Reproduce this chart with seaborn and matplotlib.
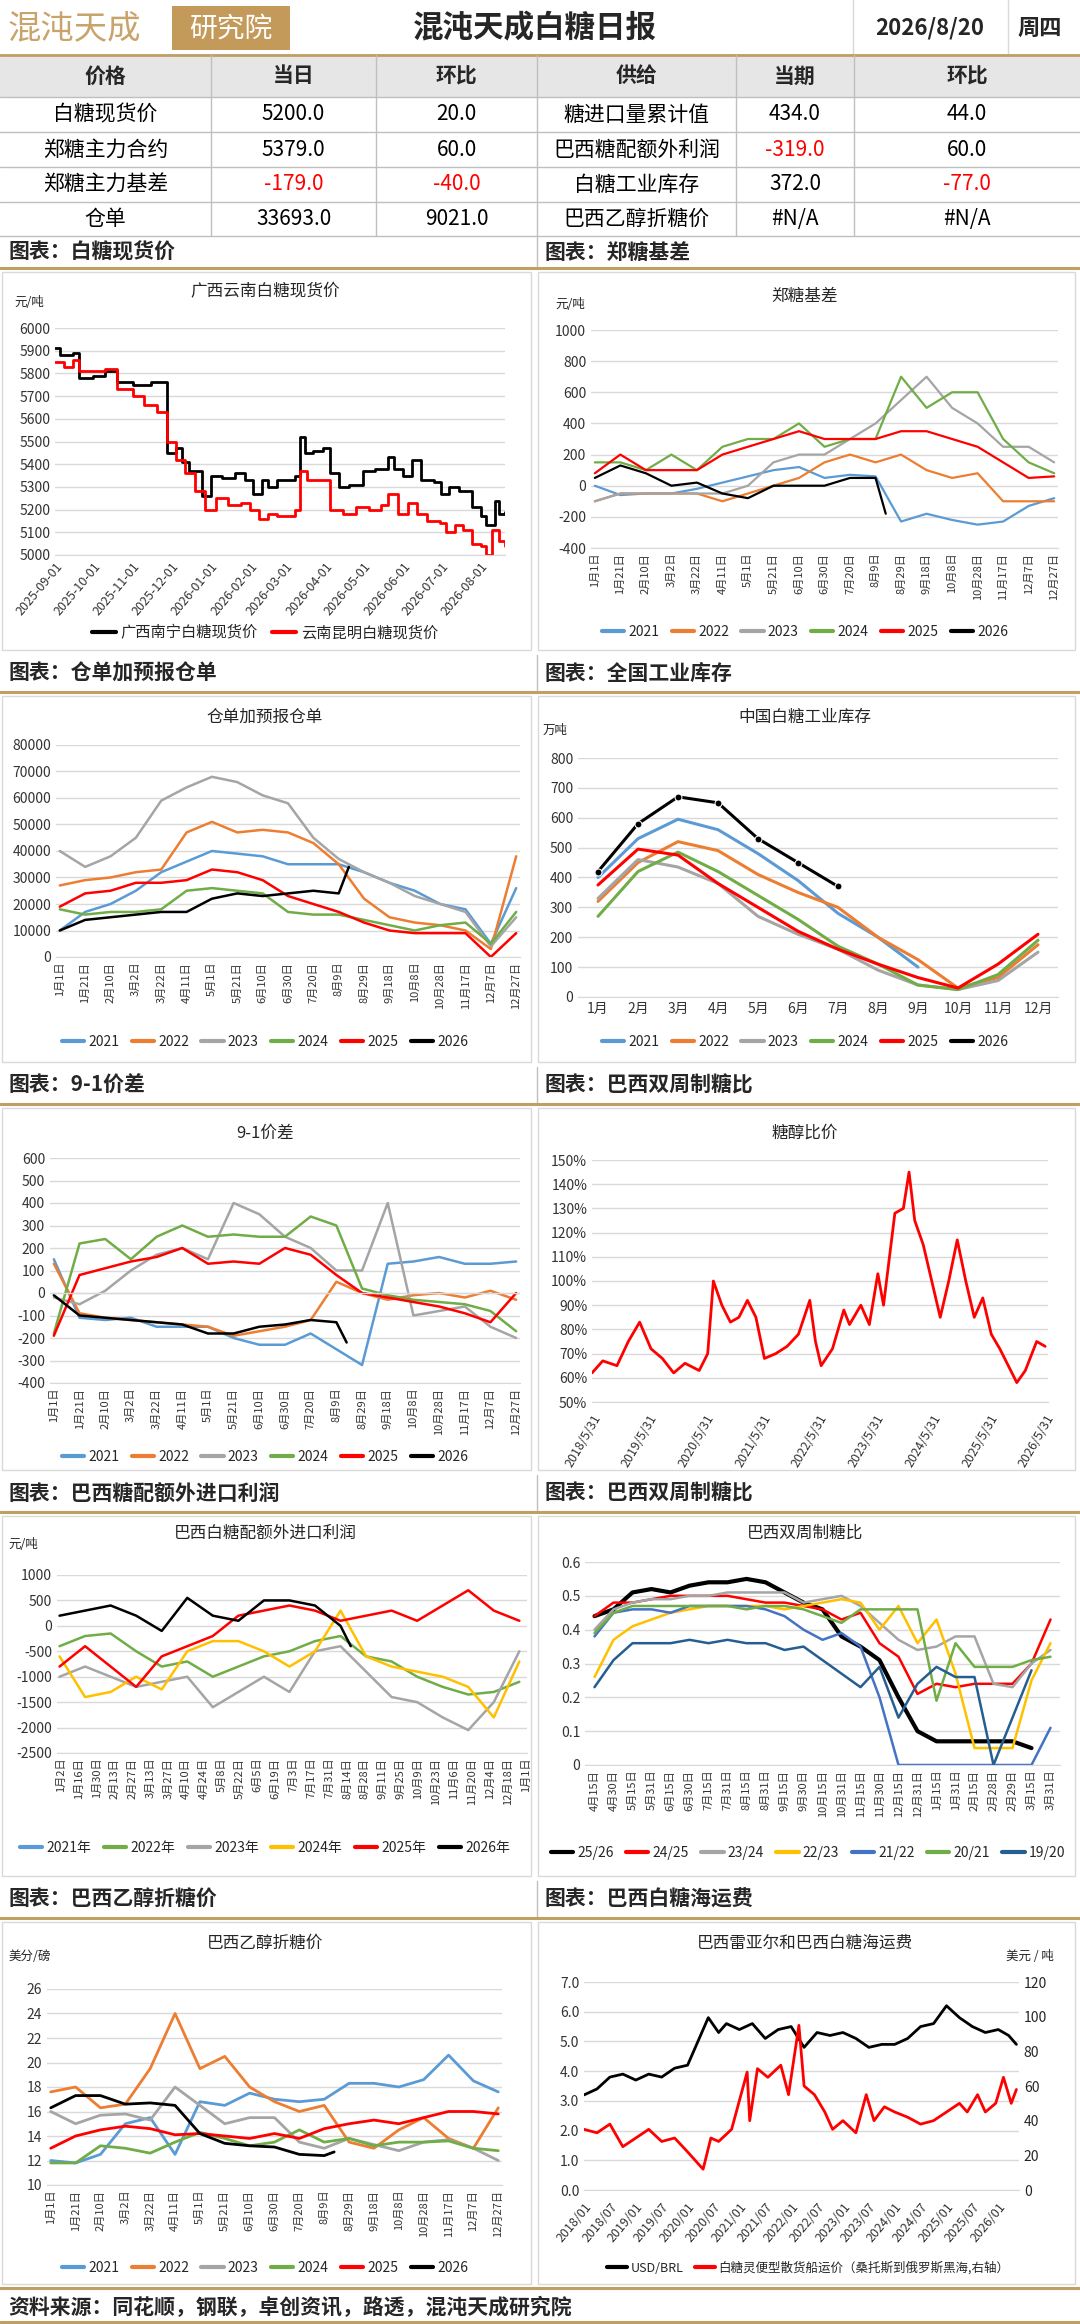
import numpy as np
import pandas as pd
import matplotlib
matplotlib.use("Agg")
import matplotlib.pyplot as plt
import seaborn as sns
from matplotlib.patches import Rectangle
from matplotlib.lines import Line2D

# ---------------- data ----------------
TABLE_HEAD = ["价格", "当日", "环比", "供给", "当期", "环比"]
TABLE_ROWS = [
    ["白糖现货价", "5200.0", "20.0", "糖进口量累计值", "434.0", "44.0"],
    ["郑糖主力合约", "5379.0", "60.0", "巴西糖配额外利润", "-319.0", "60.0"],
    ["郑糖主力基差", "-179.0", "-40.0", "白糖工业库存", "372.0", "-77.0"],
    ["仓单", "33693.0", "9021.0", "巴西乙醇折糖价", "#N/A", "#N/A"],
]
SECTIONS = [("图表：白糖现货价", "图表：郑糖基差"),
            ("图表：仓单加预报仓单", "图表：全国工业库存"),
            ("图表：9-1价差", "图表：巴西双周制糖比"),
            ("图表：巴西糖配额外进口利润", "图表：巴西双周制糖比"),
            ("图表：巴西乙醇折糖价", "图表：巴西白糖海运费")]

# chart 1: spot prices
GX_DATES = ["2025-09-01", "2025-09-05", "2025-09-15", "2025-09-20", "2025-10-01", "2025-10-10", "2025-10-20",
            "2025-11-01", "2025-11-15", "2025-11-25", "2025-11-28", "2025-12-05", "2025-12-10", "2025-12-15",
            "2025-12-25", "2026-01-01", "2026-01-10", "2026-01-20", "2026-01-28", "2026-02-03", "2026-02-10",
            "2026-02-15", "2026-02-22", "2026-03-01", "2026-03-08", "2026-03-12", "2026-03-16", "2026-03-22",
            "2026-03-30", "2026-04-05", "2026-04-12", "2026-04-20", "2026-05-01", "2026-05-10", "2026-05-20",
            "2026-05-25", "2026-06-01", "2026-06-08", "2026-06-15", "2026-06-25", "2026-07-01", "2026-07-07",
            "2026-07-15", "2026-07-25", "2026-08-01", "2026-08-05", "2026-08-12", "2026-08-15", "2026-08-20"]
GX_PRICE = [5910, 5880, 5890, 5780, 5790, 5810, 5760, 5750, 5760, 5760, 5450, 5470, 5410, 5370, 5260, 5350,
            5340, 5360, 5330, 5270, 5330, 5300, 5330, 5330, 5350, 5520, 5450, 5460, 5470, 5360, 5300, 5310,
            5370, 5380, 5430, 5380, 5350, 5420, 5330, 5320, 5270, 5300, 5280, 5210, 5170, 5130, 5240, 5180, 5190]
YN_DATES = ["2025-09-01", "2025-09-08", "2025-09-15", "2025-09-20", "2025-10-01", "2025-10-10", "2025-10-20",
            "2025-11-01", "2025-11-10", "2025-11-20", "2025-11-28", "2025-12-05", "2025-12-12", "2025-12-20",
            "2025-12-28", "2026-01-05", "2026-01-15", "2026-01-25", "2026-02-01", "2026-02-08", "2026-02-15",
            "2026-02-22", "2026-03-01", "2026-03-08", "2026-03-12", "2026-03-18", "2026-03-28", "2026-04-05",
            "2026-04-15", "2026-04-25", "2026-05-05", "2026-05-15", "2026-05-20", "2026-05-28", "2026-06-05",
            "2026-06-12", "2026-06-20", "2026-06-30", "2026-07-05", "2026-07-12", "2026-07-18", "2026-07-25",
            "2026-08-01", "2026-08-05", "2026-08-10", "2026-08-15", "2026-08-20"]
YN_PRICE = [5850, 5830, 5860, 5810, 5810, 5820, 5730, 5700, 5660, 5630, 5500, 5420, 5360, 5280, 5200, 5250,
            5220, 5230, 5200, 5160, 5180, 5170, 5170, 5200, 5370, 5330, 5330, 5200, 5180, 5210, 5200, 5220,
            5270, 5180, 5230, 5180, 5150, 5140, 5100, 5130, 5110, 5050, 5040, 5000, 5110, 5060, 5040]

YEARS = ["2021", "2022", "2023", "2024", "2025", "2026"]
SEASON_COLORS = ["#5B9BD5", "#ED7D31", "#A5A5A5", "#70AD47", "#FF0000", "#000000"]
DAYS = list(range(0, 361, 20))
DAYS_2026 = list(range(0, 221, 20)) + [228]

# chart 2: basis
BASIS = {
    "2021": [0, -60, -50, -50, -20, 20, 60, 100, 120, 50, 70, 60, -230, -180, -220, -250, -230, -130, -80],
    "2022": [-100, -50, -50, -50, -50, -100, -50, 0, 50, 150, 200, 150, 200, 100, 50, 80, -100, -100, -100],
    "2023": [-100, -50, -50, -50, -50, -50, 0, 150, 200, 200, 300, 400, 550, 700, 500, 400, 250, 250, 150],
    "2024": [150, 150, 100, 200, 100, 250, 300, 300, 400, 250, 300, 300, 700, 500, 600, 600, 300, 150, 80],
    "2025": [80, 200, 100, 100, 100, 200, 250, 300, 350, 300, 300, 300, 350, 350, 300, 250, 150, 50, 60],
    "2026": [50, 130, 80, 0, 20, -50, -80, 0, 0, 0, 50, 50, -180],
}
# chart 3: warehouse receipts
RECEIPTS = {
    "2021": [10000, 17000, 20000, 25000, 32000, 36000, 40000, 39000, 38000, 35000, 35000, 35000, 32000, 28000, 25000, 20000, 18000, 5000, 26000],
    "2022": [27000, 29000, 30000, 32000, 33000, 47000, 51000, 47000, 48000, 47000, 43000, 35000, 22000, 15000, 13000, 12000, 10000, 3000, 38000],
    "2023": [40000, 34000, 38000, 45000, 59000, 64000, 68000, 66000, 61000, 58000, 45000, 37000, 32000, 28000, 23000, 20000, 17000, 4000, 15000],
    "2024": [18000, 16000, 17000, 17000, 18000, 25000, 26000, 25000, 24000, 17000, 16000, 16000, 14000, 12000, 10000, 12000, 13000, 5000, 17000],
    "2025": [19000, 24000, 25000, 28000, 28000, 29000, 33000, 32000, 29000, 23000, 20000, 17000, 13000, 10000, 9000, 9000, 9000, 0, 9000],
    "2026": [10000, 14000, 15000, 16000, 17000, 17000, 22000, 24000, 23000, 24000, 25000, 24000, 34000],
}
# chart 4: industrial inventory (monthly)
MONTHS = list(range(1, 13))
INVENTORY = {
    "2021": [400, 530, 595, 560, 480, 390, 280, 200, 100, np.nan, np.nan, np.nan],
    "2022": [320, 450, 520, 490, 410, 350, 300, 200, 125, 30, 65, 175],
    "2023": [330, 460, 435, 380, 270, 210, 160, 90, 40, 25, 55, 150],
    "2024": [270, 420, 485, 420, 340, 260, 170, 110, 40, 25, 75, 190],
    "2025": [375, 495, 475, 380, 300, 220, 160, 110, 65, 30, 110, 210],
    "2026": [420, 580, 670, 650, 530, 450, 370, np.nan, np.nan, np.nan, np.nan, np.nan],
}
# chart 5: 9-1 spread
SPREAD = {
    "2021": [150, -110, -120, -110, -150, -150, -150, -200, -230, -230, -180, -250, -320, 130, 140, 160, 130, 130, 140],
    "2022": [130, -90, -110, -120, -130, -140, -150, -190, -170, -150, -120, 50, 0, -30, -10, 0, -20, 10, -30],
    "2023": [-20, -50, 10, 100, 170, 200, 150, 400, 350, 250, 200, 100, 100, 400, -100, -80, -60, -150, -200],
    "2024": [-180, 220, 240, 150, 250, 300, 250, 260, 250, 250, 340, 300, 20, -10, -30, -40, -50, -80, -170],
    "2025": [-190, 80, 110, 140, 160, 200, 130, 140, 130, 200, 170, 80, 0, -20, -40, -60, -90, -130, 0],
    "2026": [-10, -100, -110, -120, -130, -140, -180, -180, -150, -140, -120, -130, -220],
}
# chart 6: sugar/ethanol parity
PARITY_T = [2018.41, 2018.6, 2018.85, 2019.05, 2019.25, 2019.45, 2019.65, 2019.85, 2020.05, 2020.3, 2020.45, 2020.55,
            2020.7, 2020.85, 2021.0, 2021.15, 2021.3, 2021.45, 2021.65, 2021.85, 2022.05, 2022.25, 2022.35, 2022.45,
            2022.65, 2022.85, 2022.95, 2023.15, 2023.3, 2023.45, 2023.55, 2023.75, 2023.9, 2024.0, 2024.1, 2024.25,
            2024.4, 2024.55, 2024.7, 2024.85, 2025.0, 2025.15, 2025.3, 2025.45, 2025.6, 2025.75, 2025.9, 2026.05,
            2026.25, 2026.4]
PARITY_V = [62, 67, 65, 75, 83, 72, 68, 62, 66, 63, 70, 100, 90, 83, 85, 92, 85, 68, 70, 73, 78, 92, 75, 65, 72, 88,
            82, 90, 82, 103, 90, 128, 130, 145, 125, 115, 100, 85, 100, 117, 100, 85, 93, 78, 72, 65, 58, 63, 75, 73]
# chart 7: Brazil import profit
PROFIT = {
    "2021年": [],
    "2022年": [-400, -200, -150, -500, -800, -700, -1000, -800, -600, -500, -300, -200, -600, -700, -1000, -1200, -1350, -1300, -1100],
    "2023年": [-1000, -800, -1000, -1200, -1100, -1000, -1600, -1300, -1000, -1300, -500, -400, -900, -1400, -1500, -1800, -2050, -1500, -500],
    "2024年": [-600, -1400, -1300, -1000, -1250, -500, -300, -300, -500, -800, -500, 300, -600, -800, -900, -1000, -1200, -1800, -700],
    "2025年": [-800, -400, -800, -1200, -600, -400, -200, 200, 300, 400, 300, 100, 200, 300, 100, 400, 700, 300, 100],
    "2026年": [200, 300, 400, 200, -100, 550, 200, 100, 500, 500, 400, 0, -400],
}
PROFIT_COLORS = ["#5B9BD5", "#70AD47", "#A5A5A5", "#FFC000", "#FF0000", "#000000"]
# chart 8: Brazil sugar mix
MIX_LABELS = ["4月15日", "4月30日", "5月15日", "5月31日", "6月15日", "6月30日", "7月15日", "7月31日", "8月15日",
              "8月31日", "9月15日", "9月30日", "10月15日", "10月31日", "11月15日", "11月30日", "12月15日", "12月31日",
              "1月15日", "1月31日", "2月15日", "2月28日", "2月29日", "3月15日", "3月31日"]
MIX = {
    "25/26": [.44, .46, .51, .52, .51, .53, .54, .54, .55, .54, .51, .48, .46, .38, .35, .31, .20, .10, .07, .07, .07, .07, .07, .05, np.nan],
    "24/25": [.44, .48, .48, .49, .50, .50, .50, .50, .49, .48, .48, .47, .46, .43, .45, .36, .32, .21, .24, .23, .24, .24, .24, .30, .43],
    "23/24": [.40, .46, .48, .49, .49, .50, .50, .51, .51, .51, .51, .48, .49, .50, .47, .42, .37, .34, .35, .38, .38, .24, .23, .30, .34],
    "22/23": [.26, .37, .41, .43, .45, .46, .47, .47, .47, .47, .46, .47, .48, .49, .48, .40, .47, .36, .43, .27, .05, .05, .05, .25, .36],
    "21/22": [.38, .45, .46, .46, .45, .47, .47, .47, .47, .46, .44, .40, .37, .39, .35, .20, 0, 0, 0, 0, 0, 0, 0, 0, .11],
    "20/21": [.39, .45, .47, .47, .47, .47, .47, .47, .46, .47, .47, .46, .44, .42, .46, .46, .46, .46, .19, .36, .29, .29, .29, .31, .32],
    "19/20": [.23, .31, .36, .36, .36, .37, .36, .37, .36, .36, .34, .35, .31, .27, .23, .29, .14, .24, .29, .26, .26, 0, .14, .28, np.nan],
}
MIX_COLORS = ["#000000", "#FF0000", "#A5A5A5", "#FFC000", "#4472C4", "#70AD47", "#255E91"]
# chart 9: ethanol parity price
ETHANOL = {
    "2021": [12, 11.8, 12.5, 15, 15.5, 12.5, 16.8, 16.5, 17.5, 17, 16.8, 17, 18.3, 18.3, 18, 18.6, 20.6, 18.5, 17.6],
    "2022": [17.6, 18, 16.3, 16.6, 19.5, 24, 19.5, 20.5, 18, 16.8, 16, 16.5, 13.5, 13, 14.5, 15.5, 13.8, 13, 16.3],
    "2023": [16, 15, 15.7, 15.8, 15.3, 18, 16.5, 15, 15.5, 15.5, 13.5, 13, 13.8, 13.3, 12.8, 13.5, 13.7, 13, 12],
    "2024": [11.8, 11.8, 13.2, 13, 12.6, 13.5, 14.3, 13.8, 13.2, 13.5, 14.5, 13.5, 13.8, 13.2, 13.5, 13.5, 13.6, 13, 12.8],
    "2025": [13, 14, 14.5, 14.8, 14.6, 14.1, 14.2, 14, 13.8, 14.2, 13.8, 14.6, 15, 15.3, 15, 15.5, 16, 16, 15.8],
    "2026": [16.3, 17.3, 17.3, 16.6, 16.7, 16.5, 14.2, 13.4, 13.2, 13.1, 12.5, 12.4, 12.7],
}
# chart 10: USD/BRL and freight
FX_T = [2018.0, 2018.25, 2018.5, 2018.75, 2019.0, 2019.25, 2019.5, 2019.75, 2020.0, 2020.25, 2020.4, 2020.6, 2020.75,
        2021.0, 2021.25, 2021.5, 2021.75, 2022.0, 2022.25, 2022.5, 2022.75, 2023.0, 2023.25, 2023.5, 2023.75, 2024.0,
        2024.25, 2024.5, 2024.75, 2025.0, 2025.25, 2025.5, 2025.75, 2026.0, 2026.2, 2026.35]
FX_V = [3.2, 3.4, 3.8, 3.9, 3.7, 3.9, 3.8, 4.1, 4.2, 5.2, 5.8, 5.3, 5.6, 5.4, 5.6, 5.1, 5.4, 5.5, 4.8, 5.3, 5.2, 5.3,
        5.1, 4.8, 4.9, 4.9, 5.1, 5.5, 5.6, 6.2, 5.8, 5.5, 5.3, 5.4, 5.2, 4.9]
FREIGHT_T = [2018.0, 2018.25, 2018.5, 2018.75, 2019.0, 2019.25, 2019.5, 2019.75, 2020.0, 2020.3, 2020.45, 2020.6,
             2020.85, 2021.15, 2021.2, 2021.35, 2021.55, 2021.8, 2021.95, 2022.15, 2022.25, 2022.45, 2022.65, 2022.8,
             2023.0, 2023.25, 2023.45, 2023.6, 2023.8, 2024.0, 2024.25, 2024.5, 2024.75, 2025.0, 2025.25, 2025.4,
             2025.6, 2025.75, 2025.95, 2026.1, 2026.25, 2026.35]
FREIGHT_V = [35, 33, 38, 25, 30, 35, 28, 30, 22, 12, 30, 28, 35, 68, 40, 70, 65, 72, 55, 95, 60, 55, 45, 35, 40, 33,
             55, 40, 48, 45, 42, 38, 40, 45, 50, 45, 55, 45, 50, 65, 50, 58]

# ---------------- layout helpers ----------------
W, H = 1080, 2324
GOLD = "#BF9F63"
sns.set_style("white")
plt.rcParams["font.family"] = ["Noto Sans CJK SC", "DejaVu Sans"]
plt.rcParams["axes.unicode_minus"] = False

fig = plt.figure(figsize=(W / 100, H / 100), dpi=100)


def fx(x):
    return x / W


def fy(y):
    return 1 - y / H


def text(x, y, s, **kw):
    fig.text(fx(x), fy(y), s, **kw)


def hline(y, x0=0, x1=W, **kw):
    fig.add_artist(Line2D([fx(x0), fx(x1)], [fy(y), fy(y)], **kw))


def vline(x, y0, y1, **kw):
    fig.add_artist(Line2D([fx(x), fx(x)], [fy(y0), fy(y1)], **kw))


def box(x0, y0, x1, y1, **kw):
    fig.add_artist(Rectangle((fx(x0), fy(y1)), fx(x1) - fx(x0), fy(y0) - fy(y1), **kw))


def make_axes(x0, y0, x1, y1):
    ax = fig.add_axes([fx(x0), fy(y1), fx(x1) - fx(x0), fy(y0) - fy(y1)])
    for s in ["top", "right", "left"]:
        ax.spines[s].set_visible(False)
    ax.spines["bottom"].set_color("#D9D9D9")
    ax.grid(axis="y", color="#D9D9D9", lw=1)
    ax.set_axisbelow(True)
    ax.tick_params(axis="both", length=0, labelsize=10, colors="#333333")
    return ax


def day_labels(days, start="2026-01-01"):
    base = pd.Timestamp(start)
    out = []
    for d in days:
        t = base + pd.Timedelta(days=d)
        out.append(f"{t.month}月{t.day}日")
    return out


def season_plot(ax, series, colors, days_full, days_part, lw=1.8):
    for (name, vals), col in zip(series.items(), colors):
        if len(vals) == 0:
            continue
        xs = days_full if len(vals) == len(days_full) else days_part
        sns.lineplot(x=xs, y=vals, color=col, lw=lw, ax=ax, legend=False)


def season_axis(ax, ticks, start="2026-01-01", fs=8):
    ax.set_xticks(ticks)
    ax.set_xticklabels(day_labels(ticks, start), rotation=90, fontsize=fs)
    ax.set_xlim(ticks[0] - 3, ticks[-1] + 3)


def legend_below(names, colors, y, x, ncol, fs=10):
    handles = [Line2D([], [], color=c, lw=3) for c in colors]
    fig.legend(handles, names, loc="center", bbox_to_anchor=(fx(x), fy(y)), ncol=ncol, frameon=False,
               fontsize=fs, handlelength=1.6, handletextpad=0.3, columnspacing=0.9)


def clean(ax):
    ax.set_xlabel("")
    ax.set_ylabel("")
    if ax.get_legend() is not None:
        ax.get_legend().remove()


# ---------------- header and table ----------------
text(8, 30, "混沌天成", fontsize=24, color="#C9A46A", va="center", ha="left")
box(172, 6, 290, 50, facecolor="#C49A5A", edgecolor="none")
text(231, 29, "研究院", fontsize=20, color="white", va="center", ha="center")
text(535, 28, "混沌天成白糖日报", fontsize=22, weight="bold", va="center", ha="center")
text(930, 28, "2026/8/20", fontsize=16, weight="bold", va="center", ha="center")
text(1040, 28, "周四", fontsize=16, weight="bold", va="center", ha="center")
vline(853, 0, 55, color="#D9D9D9", lw=1)
vline(1008, 0, 55, color="#D9D9D9", lw=1)

col_edges = [0, 211, 376, 537, 736, 854, 1080]
row_edges = [55, 97, 132, 167, 202, 236]
box(0, 55, W, 97, facecolor="#E7E6E6", edgecolor="none")
for i, h in enumerate(TABLE_HEAD):
    text((col_edges[i] + col_edges[i + 1]) / 2, 76, h, fontsize=15, weight="bold", ha="center", va="center")
for r, row in enumerate(TABLE_ROWS):
    yc = (row_edges[r + 1] + row_edges[r + 2]) / 2
    for i, cell in enumerate(row):
        col = "#FF0000" if cell.startswith("-") else "black"
        text((col_edges[i] + col_edges[i + 1]) / 2, yc, cell, fontsize=15, ha="center", va="center", color=col)
for y in row_edges:
    hline(y, color="#BFBFBF", lw=1)
hline(55, color=GOLD, lw=2)
for x in col_edges[1:-1]:
    vline(x, 55, 236, color="#BFBFBF", lw=1)

# section bands and panels
BANDS = [(236, 268), (655, 692), (1067, 1104), (1475, 1512), (1881, 1918)]
PANELS = [(270, 652), (694, 1064), (1106, 1472), (1514, 1878), (1920, 2286)]
for (b0, b1), (lt, rt) in zip(BANDS, SECTIONS):
    text(8, (b0 + b1) / 2, lt, fontsize=15, weight="bold", va="center")
    text(545, (b0 + b1) / 2, rt, fontsize=15, weight="bold", va="center")
    vline(537, b0, b1, color="#BFBFBF", lw=1)
    hline(b1, color=GOLD, lw=2.2)
for p0, p1 in PANELS:
    box(2, p0 + 2, 531, p1 - 2, facecolor="none", edgecolor="#D9D9D9", lw=1)
    box(538, p0 + 2, 1075, p1 - 2, facecolor="none", edgecolor="#D9D9D9", lw=1)

# footer
hline(2288, color=GOLD, lw=2.2)
text(8, 2307, "资料来源：同花顺，钢联，卓创资讯，路透，混沌天成研究院", fontsize=15, weight="bold",
     style="italic", va="center")
hline(2322, color=GOLD, lw=2.2)

# ---------------- chart 1 ----------------
ax = make_axes(55, 328, 505, 555)
sns.lineplot(x=pd.to_datetime(GX_DATES), y=GX_PRICE, color="black", lw=2, ax=ax, drawstyle="steps-post", legend=False)
sns.lineplot(x=pd.to_datetime(YN_DATES), y=YN_PRICE, color="#FF0000", lw=2, ax=ax, drawstyle="steps-post", legend=False)
ax.set_ylim(5000, 6000)
ax.set_yticks(range(5000, 6001, 100))
mt = pd.date_range("2025-09-01", "2026-08-01", freq="MS")
ax.set_xticks(mt)
ax.set_xticklabels([d.strftime("%Y-%m-%d") for d in mt], rotation=50, ha="right", rotation_mode="anchor", fontsize=9)
ax.set_xlim(pd.Timestamp("2025-09-01"), pd.Timestamp("2026-08-20"))
clean(ax)
text(265, 292, "广西云南白糖现货价", fontsize=12, ha="center", va="center")
text(14, 303, "元/吨", fontsize=9, va="center")
legend_below(["广西南宁白糖现货价", "云南昆明白糖现货价"], ["black", "#FF0000"], 633, 265, 2, fs=11)

# ---------------- chart 2 ----------------
ax = make_axes(591, 330, 1058, 548)
season_plot(ax, BASIS, SEASON_COLORS, DAYS, DAYS_2026, lw=1.6)
ax.set_ylim(-400, 1000)
ax.set_yticks(range(-400, 1001, 200))
season_axis(ax, DAYS)
clean(ax)
text(805, 296, "郑糖基差", fontsize=12, ha="center", va="center")
text(555, 305, "元/吨", fontsize=9, va="center")
legend_below(YEARS, SEASON_COLORS, 632, 805, 6)

# ---------------- chart 3 ----------------
ax = make_axes(56, 745, 520, 957)
season_plot(ax, RECEIPTS, SEASON_COLORS, DAYS, DAYS_2026)
ax.set_ylim(0, 80000)
ax.set_yticks(range(0, 80001, 10000))
season_axis(ax, DAYS)
clean(ax)
text(265, 717, "仓单加预报仓单", fontsize=12, ha="center", va="center")
legend_below(YEARS, SEASON_COLORS, 1042, 265, 6)

# ---------------- chart 4 ----------------
ax = make_axes(578, 758, 1058, 997)
for (name, vals), col in zip(INVENTORY.items(), SEASON_COLORS):
    sns.lineplot(x=MONTHS, y=vals, color=col, lw=2.2, ax=ax, legend=False,
                 marker="o" if name == "2026" else None, markersize=5)
ax.set_ylim(0, 800)
ax.set_yticks(range(0, 801, 100))
ax.set_xticks(MONTHS)
ax.set_xticklabels([f"{m}月" for m in MONTHS], fontsize=10)
ax.set_xlim(0.5, 12.5)
clean(ax)
text(805, 717, "中国白糖工业库存", fontsize=12, ha="center", va="center")
text(543, 730, "万吨", fontsize=9, va="center")
legend_below(YEARS, SEASON_COLORS, 1042, 805, 6)

# ---------------- chart 5 ----------------
ax = make_axes(50, 1158, 520, 1383)
season_plot(ax, SPREAD, SEASON_COLORS, DAYS, DAYS_2026)
ax.set_ylim(-400, 600)
ax.set_yticks(range(-400, 601, 100))
ax.axhline(0, color="#D9D9D9", lw=1)
season_axis(ax, DAYS)
clean(ax)
text(265, 1133, "9-1价差", fontsize=12, ha="center", va="center")
legend_below(YEARS, SEASON_COLORS, 1457, 265, 6)

# ---------------- chart 6 ----------------
ax = make_axes(592, 1160, 1048, 1402)
sns.lineplot(x=PARITY_T, y=PARITY_V, color="#FF0000", lw=2, ax=ax, legend=False)
ax.set_ylim(50, 150)
ax.set_yticks(range(50, 151, 10))
ax.set_yticklabels([f"{v}%" for v in range(50, 151, 10)])
yt = [2018.41 + k for k in range(9)]
ax.set_xticks(yt)
ax.set_xticklabels([f"{2018 + k}/5/31" for k in range(9)], rotation=60, ha="right", rotation_mode="anchor", fontsize=9)
ax.set_xlim(2018.41, 2026.45)
ax.tick_params(axis="x", length=4, color="#D9D9D9")
clean(ax)
text(805, 1133, "糖醇比价", fontsize=12, ha="center", va="center")

# ---------------- chart 7 ----------------
ax = make_axes(57, 1575, 527, 1753)
season_plot(ax, PROFIT, PROFIT_COLORS, DAYS, DAYS_2026, lw=1.8)
ax.set_ylim(-2500, 1000)
ax.set_yticks(range(-2500, 1001, 500))
pt = list(range(1, 366, 14))
ax.set_xticks(pt)
ax.set_xticklabels(day_labels(pt), rotation=90, fontsize=8)
ax.set_xlim(-2, 366)
clean(ax)
text(265, 1533, "巴西白糖配额外进口利润", fontsize=12, ha="center", va="center")
text(8, 1545, "元/吨", fontsize=9, va="center")
legend_below(list(PROFIT.keys()), PROFIT_COLORS, 1848, 265, 6)

# ---------------- chart 8 ----------------
ax = make_axes(585, 1562, 1060, 1765)
idx = list(range(len(MIX_LABELS)))
for (name, vals), col in zip(MIX.items(), MIX_COLORS):
    sns.lineplot(x=idx, y=vals, color=col, lw=3 if name == "25/26" else 1.8, ax=ax, legend=False)
ax.set_ylim(0, 0.6)
ax.set_yticks([0, .1, .2, .3, .4, .5, .6])
ax.set_yticklabels(["0", "0.1", "0.2", "0.3", "0.4", "0.5", "0.6"])
ax.set_xticks(idx)
ax.set_xticklabels(MIX_LABELS, rotation=90, fontsize=8)
ax.set_xlim(-0.5, len(idx) - 0.5)
clean(ax)
text(805, 1533, "巴西双周制糖比", fontsize=12, ha="center", va="center")
legend_below(list(MIX.keys()), MIX_COLORS, 1853, 808, 7, fs=10)

# ---------------- chart 9 ----------------
ax = make_axes(47, 1989, 502, 2185)
season_plot(ax, ETHANOL, SEASON_COLORS, DAYS, DAYS_2026, lw=2)
ax.set_ylim(10, 26)
ax.set_yticks(range(10, 27, 2))
season_axis(ax, DAYS)
clean(ax)
text(265, 1943, "巴西乙醇折糖价", fontsize=12, ha="center", va="center")
text(8, 1957, "美分/磅", fontsize=9, va="center")
legend_below(YEARS, SEASON_COLORS, 2268, 265, 6)

# ---------------- chart 10 ----------------
ax = make_axes(584, 1982, 1019, 2190)
sns.lineplot(x=FX_T, y=FX_V, color="black", lw=2, ax=ax, legend=False)
ax.set_ylim(0, 7)
ax.set_yticks(np.arange(0, 7.1, 1))
ax.set_yticklabels([f"{v:.1f}" for v in np.arange(0, 7.1, 1)])
ht = [2018 + 0.5 * k for k in range(17)]
ax.set_xticks(ht)
ax.set_xticklabels([f"{int(t)}/{'01' if t % 1 == 0 else '07'}" for t in ht], rotation=50, ha="right",
                   rotation_mode="anchor", fontsize=9)
ax.set_xlim(2018, 2026.4)
ax.tick_params(axis="x", length=4, color="#D9D9D9")
clean(ax)
ax2 = ax.twinx()
sns.lineplot(x=FREIGHT_T, y=FREIGHT_V, color="#FF0000", lw=2, ax=ax2, legend=False)
ax2.set_ylim(0, 120)
ax2.set_yticks(range(0, 121, 20))
ax2.tick_params(axis="y", length=0, labelsize=10)
clean(ax2)
for s in ax2.spines.values():
    s.set_visible(False)
text(805, 1943, "巴西雷亚尔和巴西白糖海运费", fontsize=12, ha="center", va="center")
text(1030, 1957, "美元 / 吨", fontsize=9, va="center", ha="center")
legend_below(["USD/BRL", "白糖灵便型散货船运价（桑托斯到俄罗斯黑海,右轴）"], ["black", "#FF0000"],
             2268, 808, 2, fs=9)

fig.savefig("out.png", dpi=100)
